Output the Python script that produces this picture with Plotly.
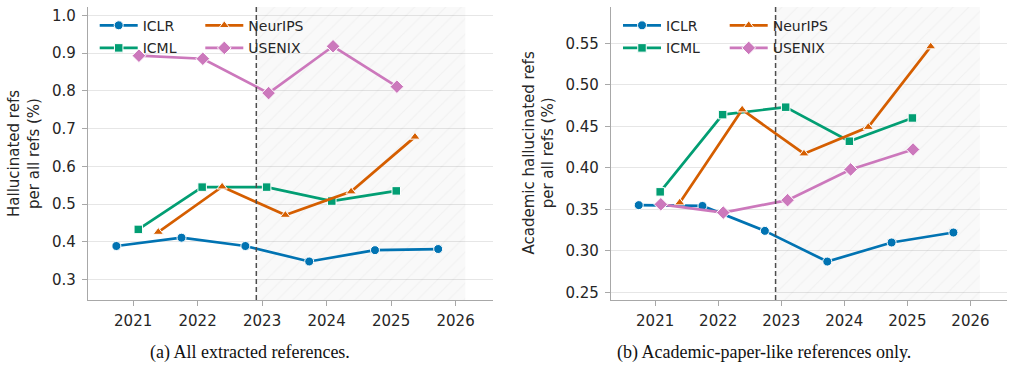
import plotly.graph_objects as go

# ---------------- data ----------------
YEARS = [2021, 2022, 2023, 2024, 2025, 2026]
YEAR_LABELS = ["2021", "2022", "2023", "2024", "2025", "2026"]

ICLR_X = [2020.74, 2021.75, 2022.74, 2023.73, 2024.75, 2025.73]
ICML_X = [2021.08, 2022.07, 2023.07, 2024.08, 2025.08]
NEURIPS_X = [2021.39, 2022.38, 2023.36, 2024.38, 2025.37]
USENIX_X = [2021.09, 2022.08, 2023.10, 2024.10, 2025.09]

# (a) all extracted references
ICLR_ALL = [0.389, 0.411, 0.389, 0.348, 0.378, 0.381]
ICML_ALL = [0.433, 0.545, 0.545, 0.508, 0.535]
NEURIPS_ALL = [0.426, 0.546, 0.471, 0.533, 0.678]
USENIX_ALL = [0.893, 0.885, 0.794, 0.918, 0.811]

# (b) academic-paper-like references only
ICLR_ACAD = [0.355, 0.354, 0.324, 0.287, 0.310, 0.322]
ICML_ACAD = [0.371, 0.464, 0.473, 0.432, 0.460]
NEURIPS_ACAD = [0.358, 0.470, 0.417, 0.449, 0.546]
USENIX_ACAD = [0.356, 0.346, 0.361, 0.398, 0.422]

YTICKS_A = [0.3, 0.4, 0.5, 0.6, 0.7, 0.8, 0.9, 1.0]
YTICK_LABELS_A = ["0.3", "0.4", "0.5", "0.6", "0.7", "0.8", "0.9", "1.0"]
YTICKS_B = [0.25, 0.30, 0.35, 0.40, 0.45, 0.50, 0.55]
YTICK_LABELS_B = ["0.25", "0.30", "0.35", "0.40", "0.45", "0.50", "0.55"]

CUTOFF = 2022.91      # dashed line / start of shaded period
SHADE_END = 2026.15   # end of shaded period

X_RANGE = [2020.30, 2026.58]
Y_RANGE_A = [0.246, 1.022]
Y_RANGE_B = [0.2407, 0.5937]

YTITLE_A = "Hallucinated refs<br>per all refs (%)"
YTITLE_B = "Academic hallucinated refs<br>per all refs (%)"
CAPTION_A = "(a) All extracted references."
CAPTION_B = "(b) Academic-paper-like references only."

SERIES = [
    ("ICLR", "#0173B2", "circle", 9, ICLR_X, ICLR_ALL, ICLR_ACAD),
    ("ICML", "#029E73", "square", 8.5, ICML_X, ICML_ALL, ICML_ACAD),
    ("NeurIPS", "#D55E00", "triangle-up", 9, NEURIPS_X, NEURIPS_ALL, NEURIPS_ACAD),
    ("USENIX", "#CC78BC", "diamond", 10.5, USENIX_X, USENIX_ALL, USENIX_ACAD),
]

# ---------------- layout geometry ----------------
W, H = 1014, 368
ML, MR, MT, MB = 88, 7, 7, 68
PW = W - ML - MR
PH = H - MT - MB


def px_x(p):
    return (p - ML) / PW


def px_y(p):
    return (H - MB - p) / PH


TEXT = "#262626"
SPINE = "#a8a8a8"
GRID = "#e6e6e6"
FONT = "DejaVu Sans"

fig = go.Figure()

# shaded period (hatched)
for xa, ya, yr in (("x", "y", Y_RANGE_A), ("x2", "y2", Y_RANGE_B)):
    fig.add_trace(go.Scatter(
        x=[CUTOFF, SHADE_END, SHADE_END, CUTOFF, CUTOFF],
        y=[yr[0], yr[0], yr[1], yr[1], yr[0]],
        xaxis=xa, yaxis=ya, mode="lines", line=dict(width=0),
        fill="toself", fillcolor="rgba(0,0,0,0.025)",
        fillpattern=dict(shape="/", fgcolor="rgba(0,0,0,0.06)",
                         bgcolor="rgba(0,0,0,0.025)", size=11, solidity=0.09),
        showlegend=False, hoverinfo="skip"))

# legend positions (text start x, row center y) in pixels
LEG_POS_A = [(142.7, 25.7), (142.7, 48.3), (248.3, 25.7), (248.3, 48.3)]
LEG_POS_B = [(666.0, 25.7), (666.0, 48.3), (772.7, 25.7), (772.7, 48.3)]

legends = {}
for i, (name, color, sym, msz, xs, ya_vals, yb_vals) in enumerate(SERIES):
    for panel, (xa, ya, vals, pos, off) in enumerate(
            (("x", "y", ya_vals, LEG_POS_A, 1), ("x2", "y2", yb_vals, LEG_POS_B, 5))):
        lname = "legend" if (i + off) == 1 else f"legend{i + off}"
        fig.add_trace(go.Scatter(
            x=xs, y=vals, xaxis=xa, yaxis=ya, name=name,
            mode="lines+markers",
            line=dict(color=color, width=2.7),
            marker=dict(symbol=sym, size=msz, color=color,
                        line=dict(color="white", width=1)),
            legend=lname, showlegend=True))
        tx, ty = pos[i]
        legends[lname] = dict(
            x=px_x(tx - 48), y=px_y(ty), xanchor="left", yanchor="middle",
            bgcolor="rgba(0,0,0,0)", borderwidth=0, itemwidth=38,
            font=dict(family=FONT, size=14, color=TEXT))

axis_common = dict(
    showline=True, linecolor=SPINE, linewidth=1.2, mirror=False,
    ticks="outside", ticklen=5, tickwidth=1.2, tickcolor=SPINE,
    tickfont=dict(family=FONT, size=15, color=TEXT), zeroline=False,
)

fig.update_layout(
    width=W, height=H,
    margin=dict(l=ML, r=MR, t=MT, b=MB),
    paper_bgcolor="white", plot_bgcolor="white",
    xaxis=dict(domain=[0, px_x(493)], range=X_RANGE, tickvals=YEARS,
               ticktext=YEAR_LABELS, showgrid=False, anchor="y",
               ticklabelstandoff=2, **axis_common),
    yaxis=dict(range=Y_RANGE_A, tickvals=YTICKS_A, ticktext=YTICK_LABELS_A,
               showgrid=True, gridcolor=GRID, gridwidth=1, anchor="x",
               ticklabelstandoff=3, **axis_common),
    xaxis2=dict(domain=[px_x(611), 1], range=X_RANGE, tickvals=YEARS,
                ticktext=YEAR_LABELS, showgrid=False, anchor="y2",
                ticklabelstandoff=2, **axis_common),
    yaxis2=dict(range=Y_RANGE_B, tickvals=YTICKS_B, ticktext=YTICK_LABELS_B,
                showgrid=True, gridcolor=GRID, gridwidth=1, anchor="x2",
                ticklabelstandoff=3, **axis_common),
    **legends,
)

# dashed cutoff lines
for xr, yr in (("x", "y domain"), ("x2", "y2 domain")):
    fig.add_shape(type="line", xref=xr, yref=yr, x0=CUTOFF, x1=CUTOFF, y0=0, y1=1,
                  line=dict(color="#4d4d4d", width=1.5, dash="5px,3px"), layer="above")

# axis titles
fig.add_annotation(text=YTITLE_A, xref="paper", yref="paper", x=px_x(23.5), y=0.5,
                   xanchor="center", yanchor="middle", textangle=-90, showarrow=False,
                   font=dict(family=FONT, size=15, color=TEXT))
fig.add_annotation(text=YTITLE_B, xref="paper", yref="paper", x=px_x(538), y=0.5,
                   xanchor="center", yanchor="middle", textangle=-90, showarrow=False,
                   font=dict(family=FONT, size=15, color=TEXT))

# captions
fig.add_annotation(text=CAPTION_A, xref="paper", yref="paper", x=px_x(249.5), y=px_y(352.5),
                   xanchor="center", yanchor="middle", showarrow=False,
                   font=dict(family="Liberation Serif", size=18, color="#111111"))
fig.add_annotation(text=CAPTION_B, xref="paper", yref="paper", x=px_x(763.5), y=px_y(352.5),
                   xanchor="center", yanchor="middle", showarrow=False,
                   font=dict(family="Liberation Serif", size=18, color="#111111"))

fig.write_html("out.html")
